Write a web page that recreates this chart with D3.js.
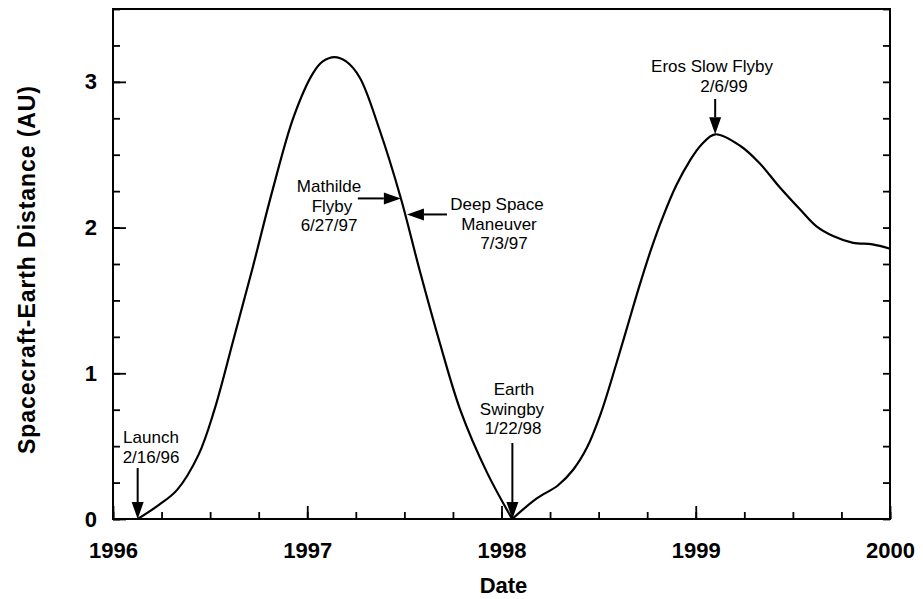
<!DOCTYPE html>
<html>
<head>
<meta charset="utf-8">
<script src="https://cdn.jsdelivr.net/npm/d3@7"></script>
<style>
  body { margin: 0; background: #fff; }
  text { font-family: "Liberation Sans", Arial, sans-serif; fill: #000; }
</style>
</head>
<body>
<div id="chart"></div>
<script>
// data (decimal year, AU)
var years = [1996.127, 1996.24, 1996.33, 1996.44, 1996.52, 1996.62, 1996.72, 1996.82, 1996.93, 1997.03,
             1997.08, 1997.14, 1997.20, 1997.27, 1997.37, 1997.48, 1997.58, 1997.68, 1997.79, 1997.925,
             1998.055,
             1998.18, 1998.29, 1998.37, 1998.44, 1998.51, 1998.59, 1998.65, 1998.71, 1998.77, 1998.83,
             1998.90, 1998.97, 1999.03, 1999.10, 1999.23, 1999.33, 1999.43, 1999.54, 1999.62, 1999.71,
             1999.81, 1999.91, 2000.0];
var distances = [0, 0.10, 0.20, 0.44, 0.74, 1.23, 1.73, 2.25, 2.76, 3.06,
                 3.14, 3.17, 3.14, 3.03, 2.68, 2.21, 1.70, 1.22, 0.74, 0.32,
                 0,
                 0.14, 0.23, 0.34, 0.49, 0.72, 1.06, 1.33, 1.60, 1.85, 2.07,
                 2.29, 2.46, 2.57, 2.64, 2.56, 2.44, 2.28, 2.12, 2.01, 1.94,
                 1.895, 1.885, 1.855];

var xTicks = [1996, 1997, 1998, 1999, 2000];
var yTicks = [0, 1, 2, 3];

// events: date label, decimal year, distance at the arrow tip
var eventNames = ["Launch", "Mathilde Flyby", "Deep Space Maneuver", "Earth Swingby", "Eros Slow Flyby"];
var eventDates = ["2/16/96", "6/27/97", "7/3/97", "1/22/98", "2/6/99"];
var eventYears = [1996.127, 1997.487, 1997.503, 1998.056, 1999.10];
var eventDist  = [0, 2.20, 2.09, 0, 2.64];

var width = 923, height = 599;
var margin = {top: 9, right: 33, bottom: 80, left: 113};

var svg = d3.select("#chart").append("svg")
            .attr("width", width)
            .attr("height", height);

var x = d3.scaleLinear().domain([1996, 2000]).range([margin.left, width - margin.right]);
var y = d3.scaleLinear().domain([0, 3.5]).range([height - margin.bottom, margin.top]);

var quarterX = d3.range(1996, 2000.001, 0.25);
var quarterY = d3.range(0, 3.501, 0.25);

// frame
svg.append("rect")
   .attr("x", x(1996)).attr("y", y(3.5))
   .attr("width", x(2000) - x(1996)).attr("height", y(0) - y(3.5))
   .attr("fill", "none").attr("stroke", "#000").attr("stroke-width", 2);

function styleAxis(g) {
  g.select(".domain").remove();
  g.selectAll(".tick line").attr("stroke", "#000").attr("stroke-width", 1.8);
}

// bottom axis, minor + major, ticks pointing inward
svg.append("g").attr("transform", "translate(0," + y(0) + ")")
   .call(d3.axisBottom(x).tickValues(quarterX).tickSize(-7).tickFormat(""))
   .call(styleAxis);
svg.append("g").attr("transform", "translate(0," + y(0) + ")")
   .call(d3.axisBottom(x).tickValues(xTicks).tickSize(-13).tickPadding(23).tickFormat(d3.format("d")))
   .call(styleAxis)
   .selectAll("text")
   .attr("font-size", "22px").attr("font-weight", "bold")
   .attr("font-family", "Liberation Sans, Arial, sans-serif");

// left axis
svg.append("g").attr("transform", "translate(" + x(1996) + ",0)")
   .call(d3.axisLeft(y).tickValues(quarterY).tickSize(-7).tickFormat(""))
   .call(styleAxis);
svg.append("g").attr("transform", "translate(" + x(1996) + ",0)")
   .call(d3.axisLeft(y).tickValues(yTicks).tickSize(-13).tickPadding(16).tickFormat(d3.format("d")))
   .call(styleAxis)
   .selectAll("text")
   .attr("font-size", "22px").attr("font-weight", "bold")
   .attr("font-family", "Liberation Sans, Arial, sans-serif");

// right axis, ticks only
svg.append("g").attr("transform", "translate(" + x(2000) + ",0)")
   .call(d3.axisRight(y).tickValues(quarterY).tickSize(-7).tickFormat(""))
   .call(styleAxis);

// axis titles
svg.append("text")
   .attr("x", (x(1996) + x(2000)) / 2 + 2)
   .attr("y", 593)
   .attr("text-anchor", "middle")
   .attr("font-size", "22px").attr("font-weight", "bold")
   .text("Date");

svg.append("text")
   .attr("transform", "translate(35," + 270 + ") rotate(-90)")
   .attr("text-anchor", "middle")
   .attr("font-size", "23px").attr("font-weight", "bold")
   .attr("textLength", 368).attr("lengthAdjust", "spacing")
   .text("Spacecraft-Earth Distance (AU)");

// distance curve, split at the Earth swingby cusp
var points = years.map(function(d, i) { return [d, distances[i]]; });
var cusp = years.indexOf(1998.055);
var line = d3.line()
             .x(function(d) { return x(d[0]); })
             .y(function(d) { return y(d[1]); })
             .curve(d3.curveCatmullRom.alpha(0.5));

[points.slice(0, cusp + 1), points.slice(cusp)].forEach(function(seg) {
  svg.append("path")
     .datum(seg)
     .attr("d", line)
     .attr("fill", "none")
     .attr("stroke", "#000")
     .attr("stroke-width", 2.2);
});

// arrows
function arrow(x1, y1, x2, y2) {
  var ang = Math.atan2(y2 - y1, x2 - x1);
  var len = 17, half = 6;
  var bx = x2 - len * Math.cos(ang), by = y2 - len * Math.sin(ang);
  svg.append("line")
     .attr("x1", x1).attr("y1", y1).attr("x2", bx).attr("y2", by)
     .attr("stroke", "#000").attr("stroke-width", 2);
  svg.append("path")
     .attr("d", "M" + x2 + "," + y2 +
                "L" + (bx + half * Math.sin(ang)) + "," + (by - half * Math.cos(ang)) +
                "L" + (bx - half * Math.sin(ang)) + "," + (by + half * Math.cos(ang)) + "Z")
     .attr("fill", "#000");
}

function label(lines, cx, baseline, anchor) {
  var t = svg.append("text")
             .attr("text-anchor", anchor || "middle")
             .attr("font-size", "17px");
  lines.forEach(function(s, i) {
    t.append("tspan").attr("x", cx[i]).attr("y", baseline + i * 19.5).text(s);
  });
}

// Launch
var tx = x(eventYears[0]), ty = y(eventDist[0]);
arrow(tx, 468, tx, ty);
label(["Launch", eventDates[0]], [151, 151], 443);

// Mathilde flyby
tx = x(eventYears[1]) - 1; ty = y(eventDist[1]);
arrow(tx - 43, ty, tx, ty);
label(["Mathilde", "Flyby", eventDates[1]], [329, 332, 329], 192);

// Deep space maneuver
tx = x(eventYears[2]) + 2; ty = y(eventDist[2]);
arrow(tx + 40, ty, tx, ty);
label(["Deep Space", "Maneuver", eventDates[2]], [497, 499, 504], 210);

// Earth swingby
tx = x(eventYears[3]); ty = y(eventDist[3]);
arrow(tx, 443, tx, ty);
label(["Earth", "Swingby", eventDates[3]], [514, 512, 513], 395);

// Eros slow flyby
tx = x(eventYears[4]); ty = y(eventDist[4]);
arrow(tx, 99, tx, ty);
label(["Eros Slow Flyby", eventDates[4]], [712, 724], 72);
</script>
</body>
</html>
